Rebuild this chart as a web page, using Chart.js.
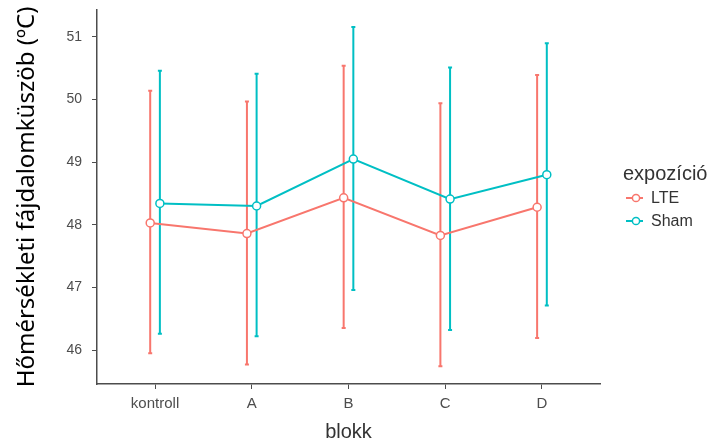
<!DOCTYPE html>
<html>
<head>
<meta charset="utf-8">
<script src="https://cdn.jsdelivr.net/npm/chart.js@4"></script>
<style>
  html, body { margin: 0; padding: 0; background: #fff; }
  #wrap { position: relative; width: 712px; height: 444px; overflow: hidden; }
  #chart { position: absolute; left: 0; top: 0; }
  .leg { position: absolute; font-family: "Liberation Sans", Arial, sans-serif; color: #333; white-space: nowrap; line-height: 1; }
  .leg-title { left: 623px; top: 163px; font-size: 20px; }
  .leg-item { left: 625px; font-size: 16px; display: flex; align-items: center; }
  .leg-item svg { margin-right: 7px; }
</style>
</head>
<body>
<div id="wrap">
  <canvas id="chart" width="712" height="444"></canvas>
  <div class="leg leg-title">expozíció</div>
  <div class="leg leg-item" style="top:190px">
    <svg width="19" height="16"><line x1="1" y1="8" x2="18" y2="8" stroke="#F8766D" stroke-width="2"/><circle cx="11" cy="8" r="3.6" fill="#fff" stroke="#F8766D" stroke-width="1.5"/></svg>LTE
  </div>
  <div class="leg leg-item" style="top:213px">
    <svg width="19" height="16"><line x1="1" y1="8" x2="18" y2="8" stroke="#00BFC4" stroke-width="2"/><circle cx="11" cy="8" r="3.6" fill="#fff" stroke="#00BFC4" stroke-width="1.5"/></svg>Sham
  </div>
</div>
<script>
// --- DATA ---
const categories = ['kontroll', 'A', 'B', 'C', 'D'];
const lteMean  = [48.03, 47.86, 48.43, 47.83, 48.28];
const lteLow   = [45.95, 45.77, 46.35, 45.74, 46.19];
const lteHigh  = [50.14, 49.97, 50.54, 49.94, 50.39];
const shamMean = [48.34, 48.30, 49.05, 48.41, 48.80];
const shamLow  = [46.26, 46.22, 46.96, 46.32, 46.71];
const shamHigh = [50.46, 50.41, 51.16, 50.51, 50.90];
const yTicks = [46, 47, 48, 49, 50, 51];

const LTE_COLOR = '#F8766D';
const SHAM_COLOR = '#00BFC4';
const DODGE = 0.05;

function toPoints(means, shift) {
    return means.map((v, i) => ({ x: i + shift, y: v }));
}

// error bars drawn through the chart scales
const errorBars = {
    id: 'errorBars',
    beforeDatasetsDraw(chart) {
        const { ctx, scales: { x, y } } = chart;
        const groups = [
            { low: lteLow, high: lteHigh, shift: -DODGE, color: LTE_COLOR },
            { low: shamLow, high: shamHigh, shift: DODGE, color: SHAM_COLOR }
        ];
        ctx.save();
        ctx.lineWidth = 2;
        groups.forEach(g => {
            ctx.strokeStyle = g.color;
            g.low.forEach((lo, i) => {
                const px = x.getPixelForValue(i + g.shift);
                const top = y.getPixelForValue(g.high[i]);
                const bot = y.getPixelForValue(lo);
                ctx.beginPath();
                ctx.moveTo(px, top); ctx.lineTo(px, bot);
                ctx.moveTo(px - 2, top); ctx.lineTo(px + 2, top);
                ctx.moveTo(px - 2, bot); ctx.lineTo(px + 2, bot);
                ctx.stroke();
            });
        });
        ctx.restore();
    }
};

const axisGrey = '#4d4d4d';
const sans = '"Liberation Sans", Arial, sans-serif';

new Chart(document.getElementById('chart'), {
    type: 'line',
    data: {
        datasets: [
            { label: 'LTE', data: toPoints(lteMean, -DODGE), borderColor: LTE_COLOR, backgroundColor: '#fff',
              borderWidth: 2, pointRadius: 4, pointBorderWidth: 1.5, pointBackgroundColor: '#fff' },
            { label: 'Sham', data: toPoints(shamMean, DODGE), borderColor: SHAM_COLOR, backgroundColor: '#fff',
              borderWidth: 2, pointRadius: 4, pointBorderWidth: 1.5, pointBackgroundColor: '#fff' }
        ]
    },
    options: {
        responsive: false,
        animation: false,
        layout: { autoPadding: false, padding: { left: 0, top: 10, right: 112, bottom: 0 } },
        plugins: { legend: { display: false }, tooltip: { enabled: false } },
        scales: {
            x: {
                type: 'linear',
                min: -0.6, max: 4.6,
                afterBuildTicks: s => { s.ticks = categories.map((c, i) => ({ value: i })); },
                afterFit: s => { s.height = 60; s.paddingLeft = 0; s.paddingRight = 0; },
                ticks: { color: axisGrey, font: { family: sans, size: 15 }, padding: 6, callback: v => categories[v] },
                grid: { drawOnChartArea: false, drawTicks: true, tickLength: 5, color: axisGrey },
                border: { display: true, color: axisGrey, width: 1.5 },
                title: { display: true, text: 'blokk', color: '#333',
                         font: { family: sans, size: 20 }, padding: { top: 2, bottom: 0 } }
            },
            y: {
                min: 45.457, max: 51.43,
                afterBuildTicks: s => { s.ticks = yTicks.map(v => ({ value: v })); },
                afterFit: s => { s.width = 97; s.paddingTop = 0; s.paddingBottom = 0; },
                ticks: { color: axisGrey, font: { family: sans, size: 14 }, padding: 10 },
                grid: { drawOnChartArea: false, drawTicks: true, tickLength: 5, color: axisGrey },
                border: { display: true, color: axisGrey, width: 1.5 },
                title: { display: true, text: 'Hőmérsékleti fájdalomküszöb (ºC)', color: '#000',
                         font: { family: '"Noto Sans", sans-serif', size: 24 }, padding: { top: 13, bottom: 4 } }
            }
        }
    },
    plugins: [errorBars]
});
</script>
</body>
</html>
